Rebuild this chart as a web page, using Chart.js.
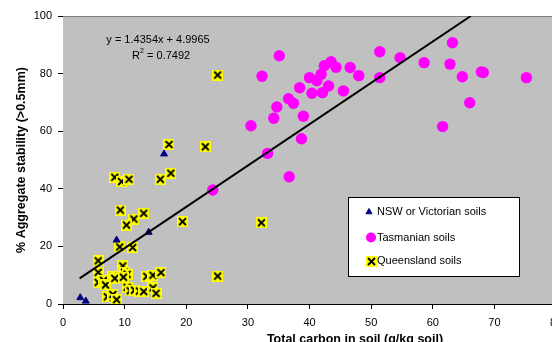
<!DOCTYPE html>
<html>
<head>
<meta charset="utf-8">
<script src="https://cdn.jsdelivr.net/npm/chart.js@4/dist/chart.umd.min.js"></script>
<style>
  body { margin: 0; background: #fff; overflow: hidden; }
  #wrap { width: 552px; height: 342px; overflow: hidden; }
</style>
</head>
<body>
<div id="wrap"><canvas id="myChart" width="600" height="342"></canvas></div>
<script>
// NSW / Victorian soils
var nswX = [2.8, 3.7, 8.7, 13.9, 16.4];
var nswY = [2.2, 1.0, 22.2, 24.9, 52.1];

// Tasmanian soils
var tasX = [24.3, 30.5, 32.3, 33.2, 34.2, 34.7, 35.1, 36.6, 36.7, 37.4, 38.4, 38.7, 39.0, 40.0, 40.4, 41.2, 41.9, 42.1,
            42.4, 43.1, 43.5, 44.3, 45.5, 46.6, 48.0, 51.4, 51.4, 54.7, 58.6, 61.6, 62.8, 63.2, 64.8, 66.0, 67.9, 68.2, 75.2];
var tasY = [39.6, 61.9, 79.1, 52.3, 64.5, 68.4, 86.2, 71.3, 44.2, 69.7, 75.1, 57.4, 65.2, 78.6, 73.2, 77.5, 79.8, 73.4,
            82.7, 75.7, 84.1, 82.2, 74.0, 82.1, 79.3, 87.6, 78.6, 85.5, 83.8, 61.6, 83.3, 90.7, 78.9, 69.9, 80.6, 80.4, 78.6];

// Queensland soils
var qldX = [8.4, 9.5, 10.7, 15.8, 17.5, 17.2, 23.1, 25.1, 19.4, 32.2, 25.1,
            9.3, 13.1, 11.5, 10.3, 9.2, 11.3,
            5.7, 5.7, 5.7, 6.6, 6.9, 8.1, 8.4, 9.7, 10.0, 10.4, 9.8,
            10.4, 10.9, 11.6, 12.4, 13.1, 13.6, 14.6, 15.9, 14.6, 15.1,
            7.2, 8.1, 8.7];
var qldY = [44.0, 42.5, 43.3, 43.3, 45.4, 55.4, 54.6, 79.5, 28.6, 28.2, 9.7,
            32.6, 31.5, 29.5, 27.4, 19.8, 19.6,
            15.0, 11.0, 7.5, 8.2, 6.6, 9.5, 8.9, 13.2, 11.0, 10.3, 9.3,
            5.8, 4.6, 4.8, 4.5, 4.3, 9.6, 10.0, 10.9, 5.6, 3.7,
            2.5, 3.3, 1.5];

// linear trend (from the chart)
var trendSlope = 1.4354;
var trendIntercept = 4.9965;
var trendFrom = 2.7;

var xTicks = [0, 10, 20, 30, 40, 50, 60, 70, 80];
var yTicks = [0, 20, 40, 60, 80, 100];

function pts(xs, ys) {
  var out = [];
  for (var i = 0; i < xs.length; i++) out.push({x: xs[i], y: ys[i]});
  return out;
}

// yellow square with black cross
var qIcon = document.createElement('canvas');
qIcon.width = 11; qIcon.height = 11;
var qc = qIcon.getContext('2d');
qc.fillStyle = '#ffff00';
qc.fillRect(0, 0, 11, 11);
qc.strokeStyle = '#000';
qc.lineWidth = 1.8;
qc.beginPath();
qc.moveTo(2, 2); qc.lineTo(9, 9);
qc.moveTo(9, 2); qc.lineTo(2, 9);
qc.stroke();

var trendEnd = (yTicks[yTicks.length - 1] - trendIntercept) / trendSlope;

var FONT = 'Arial, "Liberation Sans", sans-serif';

var decor = {
  id: 'decor',
  beforeDatasetsDraw: function(chart) {
    var a = chart.chartArea, ctx = chart.ctx;
    ctx.save();
    ctx.fillStyle = '#c0c0c0';
    ctx.fillRect(a.left, a.top, a.right - a.left, a.bottom - a.top);
    ctx.strokeStyle = '#808080';
    ctx.lineWidth = 1;
    ctx.beginPath();
    ctx.moveTo(a.left, a.top + 0.5);
    ctx.lineTo(a.right, a.top + 0.5);
    ctx.stroke();
    ctx.restore();
  },
  afterDraw: function(chart) {
    var ctx = chart.ctx;
    ctx.save();
    // equation
    ctx.fillStyle = '#000';
    ctx.font = '11px ' + FONT;
    ctx.textBaseline = 'middle';
    ctx.textAlign = 'center';
    ctx.fillText('y = 1.4354x + 4.9965', 158, 40);
    ctx.textAlign = 'left';
    ctx.fillText('R', 132, 56);
    ctx.font = '7px ' + FONT;
    ctx.fillText('2', 140, 51);
    ctx.font = '11px ' + FONT;
    ctx.fillText(' = 0.7492', 144, 56);

    // legend
    ctx.fillStyle = '#fff';
    ctx.fillRect(348.5, 197.5, 171, 79);
    ctx.strokeStyle = '#000';
    ctx.lineWidth = 1;
    ctx.strokeRect(348.5, 197.5, 171, 79);
    ctx.fillStyle = '#000080'; ctx.strokeStyle = '#000080';
    Chart.helpers.drawPoint(ctx, {pointStyle: 'triangle', radius: 3.5, borderWidth: 1}, 369, 212);
    ctx.fillStyle = '#ff00ff'; ctx.strokeStyle = '#ff00ff';
    Chart.helpers.drawPoint(ctx, {pointStyle: 'circle', radius: 5, borderWidth: 0}, 371, 237.5);
    ctx.drawImage(qIcon, 366, 256);
    ctx.fillStyle = '#000';
    ctx.font = '11px ' + FONT;
    ctx.textAlign = 'left';
    ctx.textBaseline = 'middle';
    ctx.fillText('NSW or Victorian soils', 377, 212);
    ctx.fillText('Tasmanian soils', 377, 237.5);
    ctx.fillText('Queensland soils', 377, 261);

    // x axis title
    ctx.font = 'bold 12.5px ' + FONT;
    ctx.textAlign = 'center';
    ctx.fillText('Total carbon in soil (g/kg soil)', 355, 340);
    ctx.restore();
  }
};

var ctx = document.getElementById('myChart').getContext('2d');
var myChart = new Chart(ctx, {
  type: 'scatter',
  data: {
    datasets: [{
      label: 'trend',
      type: 'line',
      data: [{x: trendFrom, y: trendSlope * trendFrom + trendIntercept}, {x: trendEnd, y: trendSlope * trendEnd + trendIntercept}],
      borderColor: '#000',
      borderWidth: 2,
      pointRadius: 0,
      fill: false,
      order: 0
    }, {
      label: 'NSW or Victorian soils',
      data: pts(nswX, nswY),
      pointStyle: 'triangle',
      pointRadius: 4,
      backgroundColor: '#000080',
      borderColor: '#000080',
      borderWidth: 1,
      order: 1
    }, {
      label: 'Tasmanian soils',
      data: pts(tasX, tasY),
      pointStyle: 'circle',
      pointRadius: 5.7,
      backgroundColor: '#ff00ff',
      borderColor: '#ff00ff',
      borderWidth: 0,
      order: 2
    }, {
      label: 'Queensland soils',
      data: pts(qldX, qldY),
      pointStyle: qIcon,
      backgroundColor: '#ffff00',
      order: 3
    }]
  },
  options: {
    responsive: false,
    animation: false,
    layout: {padding: {top: 16, right: 44, left: 0, bottom: 0}},
    plugins: {legend: {display: false}, tooltip: {enabled: false}},
    scales: {
      x: {
        type: 'linear',
        min: 0, max: 80,
        afterBuildTicks: function(s) { s.ticks = xTicks.map(function(v) { return {value: v}; }); },
        afterFit: function(s) { s.height = 38; },
        grid: {drawOnChartArea: false, drawTicks: true, tickLength: 5, color: '#000'},
        border: {display: true, color: '#000', width: 1},
        ticks: {color: '#000', font: {size: 11, family: FONT}, padding: 7, maxRotation: 0}
      },
      y: {
        min: 0, max: 100,
        afterBuildTicks: function(s) { s.ticks = yTicks.map(function(v) { return {value: v}; }); },
        afterFit: function(s) { s.width = 63; },
        grid: {drawOnChartArea: false, drawTicks: true, tickLength: 5, color: '#000'},
        border: {display: true, color: '#000', width: 1},
        ticks: {color: '#000', font: {size: 11, family: FONT}, padding: 6},
        title: {
          display: true,
          text: '% Aggregate stability (>0.5mm)',
          color: '#000',
          font: {size: 12.5, weight: 'bold', family: FONT},
          padding: {top: 14, bottom: 0}
        }
      }
    }
  },
  plugins: [decor]
});
</script>
</body>
</html>
